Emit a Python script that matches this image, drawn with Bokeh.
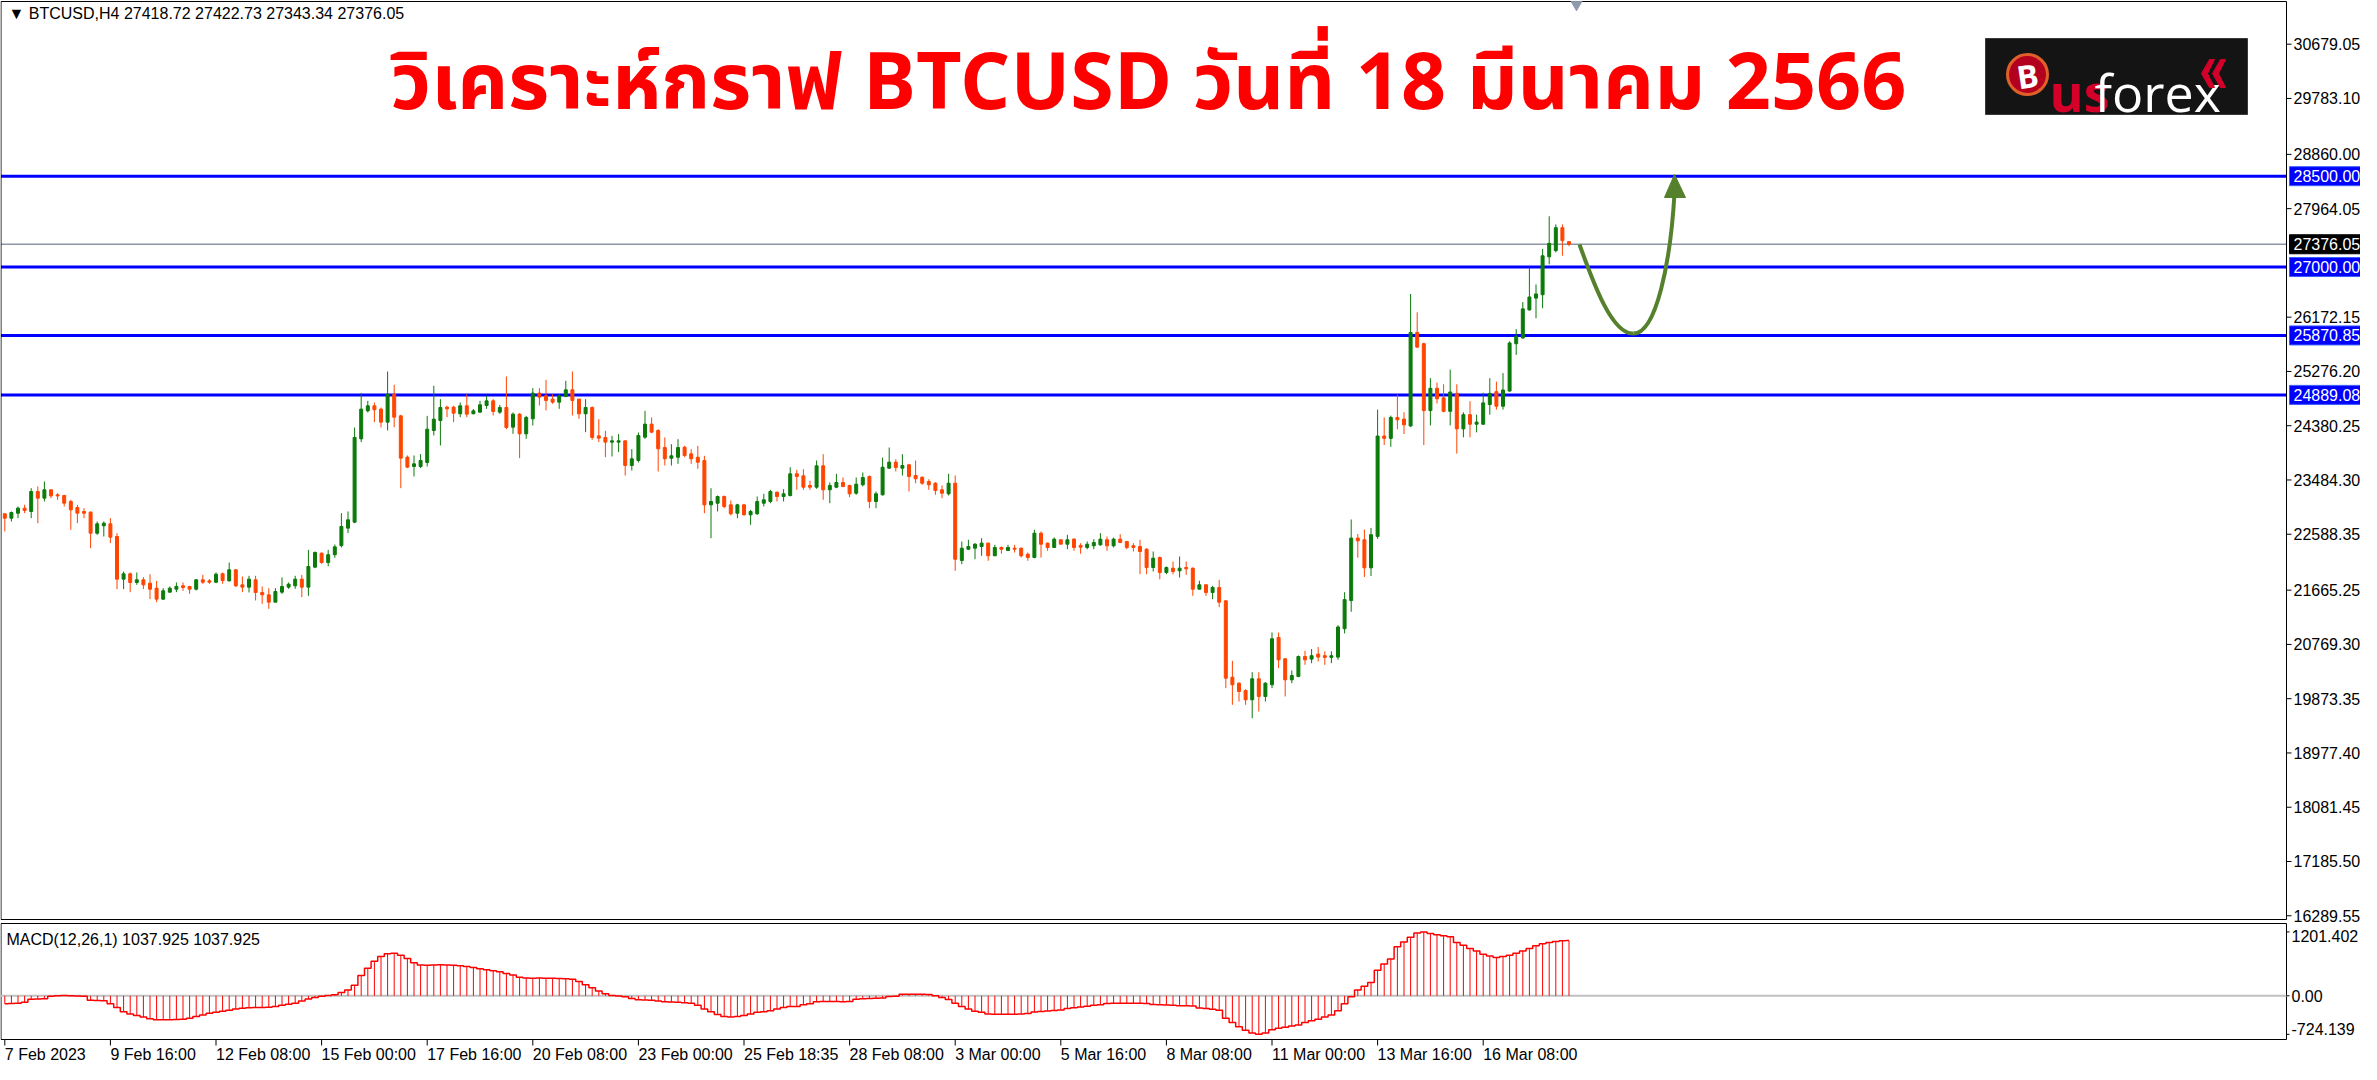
import numpy as np
from bokeh.plotting import figure
from bokeh.models import Range1d
from bokeh.core.properties import value
from bokeh.embed import file_html
from bokeh.resources import INLINE

# ---------------- data (BTCUSD, H4) ----------------
OPEN = [22925,22854,22936,23019,22964,23294,23184,23322,23239,23228,23129,23030,22964,22953,22606,22727,22760,22551,21847,21935,
        21792,21836,21781,21698,21517,21632,21682,21737,21726,21682,21836,21819,21797,21935,21819,22001,21753,21715,21836,21627,
        21588,21467,21632,21715,21737,21847,21715,22045,22276,22122,22250,22400,22689,22788,24164,24626,24709,24654,24439,24901,
        24543,23861,23707,23707,23773,24301,24466,24687,24687,24577,24709,24577,24604,24714,24791,24604,24681,24356,24571,24246,
        24494,24918,24874,24819,24769,24863,24973,24819,24577,24681,24213,24186,24109,24109,24131,23724,23806,24191,24406,24301,
        24020,23844,23860,24025,23916,23860,23806,23074,23101,23211,23074,22936,23074,22909,22926,23101,23129,23282,23211,23228,
        23586,23553,23393,23365,23718,23322,23365,23443,23393,23266,23405,23542,23129,23240,23679,23778,23679,23735,23558,23530,
        23459,23431,23322,23256,23431,22155,22341,22358,22386,22441,22233,22370,22320,22358,22358,22259,22204,22606,22441,22370,
        22497,22424,22507,22403,22370,22398,22414,22497,22398,22507,22469,22398,22386,22341,22039,22204,21957,22028,21985,22039,
        22028,21681,21754,21627,21709,21490,20228,20129,20009,19855,20202,19910,20103,20884,20532,20185,20240,20570,20527,20610,
        20583,20555,20560,21029,21493,22525,22497,22034,22553,24210,24171,24517,24489,24377,25919,25734,24630,24998,24841,24618,
        24914,24328,24562,24405,24405,24730,24942,24702,24953,25734,25828,26292,26487,26543,27169,27270,27649,27418.72]
HIGH = [22936,22964,23046,23074,23349,23377,23459,23322,23266,23239,23156,23074,23019,22964,22799,22799,22854,22606,21973,21957,
        21957,21880,21929,21819,21698,21726,21792,21792,21737,21847,21918,21847,21957,21957,22122,22012,21891,21902,21902,21726,
        21698,21698,21874,21792,21902,21918,22331,22304,22287,22330,22420,22937,22964,24351,24918,24791,24764,24681,25275,25055,
        24560,23889,23889,23911,24543,25039,24819,24709,24709,24764,24901,24654,24791,24874,24819,24725,25193,24599,24588,24543,
        25000,25000,25138,24901,24901,25121,25275,24824,24819,24698,24488,24296,24213,24241,24131,23993,24268,24626,24516,24323,
        24186,24075,24158,24048,23992,24048,23883,23348,23228,23228,23145,23091,23091,22992,23211,23256,23322,23294,23332,23695,
        23652,23662,23471,23806,23910,23443,23586,23525,23405,23525,23608,23558,23294,23855,24020,23827,23910,23751,23806,23542,
        23497,23448,23393,23586,23558,22469,22497,22441,22523,22452,22414,22386,22414,22414,22370,22287,22662,22634,22452,22535,
        22497,22579,22523,22441,22469,22507,22606,22551,22535,22589,22469,22441,22497,22358,22303,22221,22056,22138,22221,22138,
        22039,21820,21764,21737,21836,21490,20499,20146,20030,20311,20311,20146,20966,20966,20542,20339,20586,20664,20694,20727,
        20656,20656,21085,21631,22832,22592,22665,22693,24646,24517,24546,24897,24602,26555,26253,25751,25165,25092,25064,25305,
        25064,24602,24785,24562,24925,25165,25108,25249,25774,25974,26421,26991,26712,27298,27838,27704,27704,27422.73]
LOW = [22634,22799,22854,22936,22854,22771,23129,23184,23156,23046,22661,22771,22854,22358,22579,22551,22441,21682,21682,21632,
       21753,21682,21517,21467,21506,21627,21632,21654,21605,21660,21770,21770,21781,21770,21808,21715,21632,21627,21495,21440,
       21357,21467,21605,21687,21687,21550,21572,22028,22100,22060,22200,22370,22606,22771,24109,24599,24439,24351,24301,24356,
       23349,23680,23542,23680,23707,24219,24054,24521,24439,24521,24521,24571,24599,24659,24549,24577,24323,24246,23845,24164,
       24384,24714,24632,24742,24659,24852,24549,24494,24274,24147,24109,23861,23872,23944,23558,23641,23773,24164,24257,23624,
       23723,23723,23751,23860,23751,23669,22936,22523,22964,23018,22898,22853,22898,22744,22909,23046,23101,23129,23129,23211,
       23322,23322,23322,23339,23157,23101,23348,23365,23200,23240,23377,23018,23018,23228,23669,23624,23558,23294,23431,23405,
       23322,23240,23183,23228,21985,22094,22331,22176,22233,22150,22233,22266,22315,22287,22204,22150,22193,22204,22315,22370,
       22424,22341,22315,22266,22341,22341,22398,22315,22370,22441,22341,22303,21929,21929,21973,21846,21929,21929,21874,21919,
       21572,21681,21572,21516,21384,20047,19773,19827,19773,19551,19662,19827,20047,20377,19910,20129,20228,20433,20459,20487,
       20431,20459,20515,20951,21308,22201,21882,21899,22513,24060,24032,24323,24243,24356,25662,24060,24384,24747,24602,24384,
       23920,24189,24189,24271,24395,24562,24646,24646,24942,25549,25818,26281,26154,26320,27045,27242,27186,27343.34]
CLOSE = [22854,22947,23019,22980,23294,23184,23322,23222,23222,23101,22991,22936,22936,22606,22760,22771,22540,21847,21935,21792,
         21836,21753,21682,21517,21654,21698,21726,21709,21682,21836,21797,21797,21929,21825,22001,21737,21715,21847,21627,21588,
         21467,21643,21726,21764,21847,21715,22056,22287,22122,22250,22380,22716,22827,24186,24654,24709,24643,24439,24901,24521,
         23845,23696,23751,23806,24323,24488,24681,24659,24588,24709,24571,24626,24725,24791,24615,24681,24351,24571,24246,24516,
         24918,24852,24797,24769,24874,24973,24797,24577,24681,24186,24175,24109,24131,24131,23724,23834,24219,24406,24274,23999,
         23834,23883,24020,23888,23834,23778,23074,23129,23211,23046,22926,23074,22909,22964,23129,23157,23294,23211,23256,23586,
         23542,23365,23365,23718,23322,23393,23443,23377,23256,23415,23525,23129,23256,23695,23778,23690,23723,23542,23504,23431,
         23405,23311,23266,23431,22176,22358,22386,22424,22441,22233,22370,22341,22370,22341,22233,22204,22606,22424,22370,22507,
         22424,22497,22370,22374,22424,22452,22507,22398,22507,22452,22370,22370,22303,22039,22193,21957,22039,21973,22028,22018,
         21681,21754,21627,21709,21466,20212,20103,19992,19855,20202,19910,20129,20862,20515,20185,20256,20570,20515,20583,20560,
         20555,20583,21057,21509,22525,22480,22034,22581,24210,24171,24517,24478,24395,25919,25678,24630,24998,24825,24618,24937,
         24328,24562,24405,24440,24757,24914,24702,24970,25746,25856,26309,26505,26555,27186,27392,27649,27436,27376.05]
MACD = [-150,-145,-140,-120,-65,-60,-55,-10,0,5,0,-5,-10,-85,-90,-95,-150,-220,-300,-340,
        -370,-400,-430,-450,-450,-450,-445,-440,-420,-390,-360,-330,-310,-290,-270,-250,-235,-225,-220,-220,
        -215,-200,-180,-160,-140,-100,-60,-30,-10,5,20,60,110,200,380,520,650,740,790,800,
        760,700,620,580,575,580,585,580,575,565,550,530,510,490,470,450,420,390,350,335,
        330,335,330,330,325,320,310,270,210,150,90,40,5,-5,-20,-50,-75,-80,-85,-100,
        -110,-115,-120,-130,-140,-180,-250,-300,-350,-390,-400,-390,-370,-340,-310,-300,-280,-250,-220,-200,
        -200,-170,-150,-110,-105,-105,-105,-110,-105,-65,-55,-50,-45,-40,-15,-10,30,30,30,30,
        25,0,-30,-70,-140,-200,-250,-290,-310,-340,-345,-345,-345,-345,-340,-335,-305,-295,-285,-275,
        -265,-240,-225,-210,-195,-180,-170,-145,-140,-140,-140,-140,-140,-145,-165,-170,-175,-180,-185,-185,
        -190,-230,-240,-255,-270,-420,-500,-580,-650,-700,-724.139,-700,-640,-610,-590,-570,-550,-500,-470,-440,
        -400,-360,-280,-150,-20,110,180,250,480,600,690,920,1010,1100,1180,1201.402,1170,1150,1130,1110,
        1000,950,890,840,780,750,720,740,760,800,840,890,940,980,1000,1020,1035,1037.925]

PRICE_TICKS = [30679.05, 29783.10, 28860.00, 27964.05, 26172.15, 25276.20, 24380.25,
               23484.30, 22588.35, 21665.25, 20769.30, 19873.35, 18977.40, 18081.45, 17185.50, 16289.55]
LEVELS = [28500.00, 27000.00, 25870.85, 24889.08]
LAST_PRICE = 27376.05
MACD_TICKS = [1201.402, 0.0, -724.139]
MACD_TICK_LABELS = ["1201.402", "0.00", "-724.139"]
TIME_TICKS = [0, 16, 32, 48, 64, 80, 96, 112, 128, 144, 160, 176, 192, 208, 224]
TIME_LABELS = ["7 Feb 2023", "9 Feb 16:00", "12 Feb 08:00", "15 Feb 00:00", "17 Feb 16:00",
               "20 Feb 08:00", "23 Feb 00:00", "25 Feb 18:35", "28 Feb 08:00", "3 Mar 00:00",
               "5 Mar 16:00", "8 Mar 08:00", "11 Mar 00:00", "13 Mar 16:00", "16 Mar 08:00"]
TITLE = "วิเคราะห์กราฟ BTCUSD วันที่ 18 มีนาคม 2566"
HEADER = "▼ BTCUSD,H4  27418.72 27422.73 27343.34 27376.05"
MACD_HEADER = "MACD(12,26,1) 1037.925 1037.925"

# ---------------- styling / layout ----------------
UP = "#0B7A0B"
DOWN = "#FF4500"
BLUE = "#0000FF"
AXIS_FONT = "Liberation Sans"
FS = "16px"
W, H = 2360, 1062          # canvas size
OX, OY = 4, 4              # reference pixel shown at the canvas' top-left corner


def XD(px):   # reference pixel -> bar-index space (for annotation placement)
    return (px - 8.3) / 6.6


def YD(py):   # reference pixel -> price space
    return 31466.5 - 16.51 * py


def MV(py):   # reference pixel -> MACD space
    return (999.3 - py) * 18.8


PX = 16.51    # price units per pixel

p = figure(width=W, height=H, x_range=Range1d(XD(OX), XD(OX + W)),
           y_range=Range1d(YD(OY + H), YD(OY)),
           output_backend="svg", toolbar_location=None,
           x_axis_location=None, y_axis_location=None,
           min_border_left=0, min_border_right=0, min_border_top=0, min_border_bottom=0,
           background_fill_color="white", border_fill_color="white")
p.extra_y_ranges = {"macd": Range1d(MV(OY + H), MV(OY))}
p.grid.visible = False
p.outline_line_color = None

L_EDGE, R_EDGE = XD(4.5), XD(2290)


def txt(xs, ys, ss, size=FS, color="black", align="left", baseline="middle",
        font=AXIS_FONT, style="normal", rng="default", yoff=0, angle=0.0):
    p.text(x=xs, y=ys, text=ss, text_font=value(font), text_font_size=value(size),
           text_color=color, text_align=align, text_baseline=baseline,
           text_font_style=style, y_range_name=rng, y_offset=yoff, angle=angle)


# ---------- price panel ----------
n = len(CLOSE)
x = np.arange(n)
o = np.array(OPEN, float); h = np.array(HIGH, float)
l = np.array(LOW, float); c = np.array(CLOSE, float)
col = np.where(c >= o, UP, DOWN)

# horizontal levels and current price line
p.segment(x0=[L_EDGE] * len(LEVELS), x1=[R_EDGE] * len(LEVELS), y0=LEVELS, y1=LEVELS,
          line_color=BLUE, line_width=3)
p.segment(x0=[L_EDGE], x1=[R_EDGE], y0=[LAST_PRICE], y1=[LAST_PRICE],
          line_color="#8A96A3", line_width=1.5)

# candles
p.segment(x, h, x, l, line_color=col, line_width=1)
p.vbar(x=x, width=0.45, top=np.maximum(o, c), bottom=np.minimum(o, c),
       fill_color=col, line_color=col, line_width=1)

# panel frames
p.quad(left=[L_EDGE], right=[R_EDGE], top=[YD(5)], bottom=[YD(923)],
       fill_color=None, line_color="black", line_width=1)
p.quad(left=[L_EDGE], right=[R_EDGE], top=[YD(927)], bottom=[YD(1043)],
       fill_color=None, line_color="black", line_width=1)

# price axis (right)
p.segment(x0=[R_EDGE] * len(PRICE_TICKS), x1=[XD(2295)] * len(PRICE_TICKS),
          y0=PRICE_TICKS, y1=PRICE_TICKS, line_color="black", line_width=1)
txt([XD(2297)] * len(PRICE_TICKS), PRICE_TICKS, [f"{t:.2f}" for t in PRICE_TICKS])

# level boxes on the price axis
BOX_H = 9.5 * PX
p.quad(left=[XD(2293)] * len(LEVELS), right=[XD(2366)] * len(LEVELS),
       top=[v + BOX_H for v in LEVELS], bottom=[v - BOX_H for v in LEVELS],
       fill_color=BLUE, line_color="#3a5cff", line_width=1)
txt([XD(2297)] * len(LEVELS), LEVELS, [f"{v:.2f}" for v in LEVELS], color="white")
p.quad(left=[XD(2293)], right=[XD(2366)], top=[LAST_PRICE + BOX_H], bottom=[LAST_PRICE - BOX_H],
       fill_color="black", line_color="black")
txt([XD(2297)], [LAST_PRICE], [f"{LAST_PRICE:.2f}"], color="white")

# header and title
txt([XD(12)], [YD(17)], [HEADER])
txt([XD(1152)], [YD(88)], [TITLE], size="79px", color="#FF0000", align="center",
    font="'Noto Sans Thai', 'Noto Sans', sans-serif", style="bold")

# logo
p.quad(left=[XD(1989)], right=[XD(2251)], top=[YD(42)], bottom=[YD(118)],
       fill_color="#141414", line_color="#3a3a3a", line_width=1)
p.scatter(x=[XD(2031)], y=[YD(78)], size=40, marker="circle", fill_color="#B3001F",
          line_color="#E0602A", line_width=3)
txt([XD(2031)], [YD(79)], ["B"], size="32px", color="white", align="center",
    font="Open Sans", style="bold", angle=0.15)
txt([XD(2053)], [YD(95)], ["us"], size="52px", color="#D4002A", baseline="alphabetic",
    font="Open Sans", style="bold")
txt([XD(2098)], [YD(95)], ["forex"], size="52px", color="white", baseline="alphabetic",
    font="Open Sans")
for x0 in (2205, 2216):
    p.patch(x=[XD(x0), XD(x0 + 8), XD(x0 + 13), XD(x0 + 6), XD(x0 + 13), XD(x0 + 8)],
            y=[YD(77), YD(63), YD(63), YD(77), YD(91), YD(91)],
            fill_color="#D4002A", line_color="#D4002A")

# forecast arrow
ARROW = "#55802C"
p.bezier(x0=[XD(1583)], y0=[YD(248)], x1=[XD(1637)], y1=[YD(337)],
         cx0=[XD(1598)], cy0=[YD(290)], cx1=[XD(1616)], cy1=[YD(338)],
         line_color=ARROW, line_width=4)
p.bezier(x0=[XD(1637)], y0=[YD(337)], x1=[XD(1678)], y1=[YD(197)],
         cx0=[XD(1660)], cy0=[YD(337)], cx1=[XD(1674)], cy1=[YD(265)],
         line_color=ARROW, line_width=4)
p.patch(x=[XD(1668), XD(1678), XD(1689)], y=[YD(201), YD(178), YD(201)],
        fill_color=ARROW, line_color=ARROW)
p.scatter(x=[XD(1580)], y=[YD(8)], marker="inverted_triangle", size=11,
          fill_color="#8E9AAB", line_color="#8E9AAB")

# ---------- MACD panel ----------
mv = np.array(MACD, float)
p.segment(x0=[L_EDGE], x1=[R_EDGE], y0=[0], y1=[0], line_color="#C0C0C0", line_width=2,
          y_range_name="macd")
p.segment(x, np.zeros(n), x, mv, line_color="#FF0000", line_width=1, y_range_name="macd")
p.step(x, mv, mode="center", line_color="#FF0000", line_width=1.5, y_range_name="macd")
txt([XD(10)], [MV(943)], [MACD_HEADER], rng="macd")
p.segment(x0=[R_EDGE] * 3, x1=[XD(2293)] * 3, y0=MACD_TICKS, y1=MACD_TICKS,
          line_color="black", line_width=1, y_range_name="macd")
for t, s, off in zip(MACD_TICKS, MACD_TICK_LABELS, (4, 0, -5)):
    txt([XD(2295)], [t], [s], rng="macd", yoff=off)

# time axis (below)
p.segment(x0=TIME_TICKS, x1=TIME_TICKS, y0=[YD(1043)] * len(TIME_TICKS),
          y1=[YD(1049)] * len(TIME_TICKS), line_color="black", line_width=1)
txt(TIME_TICKS, [YD(1058)] * len(TIME_TICKS), TIME_LABELS)

open("out.html", "w").write(file_html(p, INLINE))
